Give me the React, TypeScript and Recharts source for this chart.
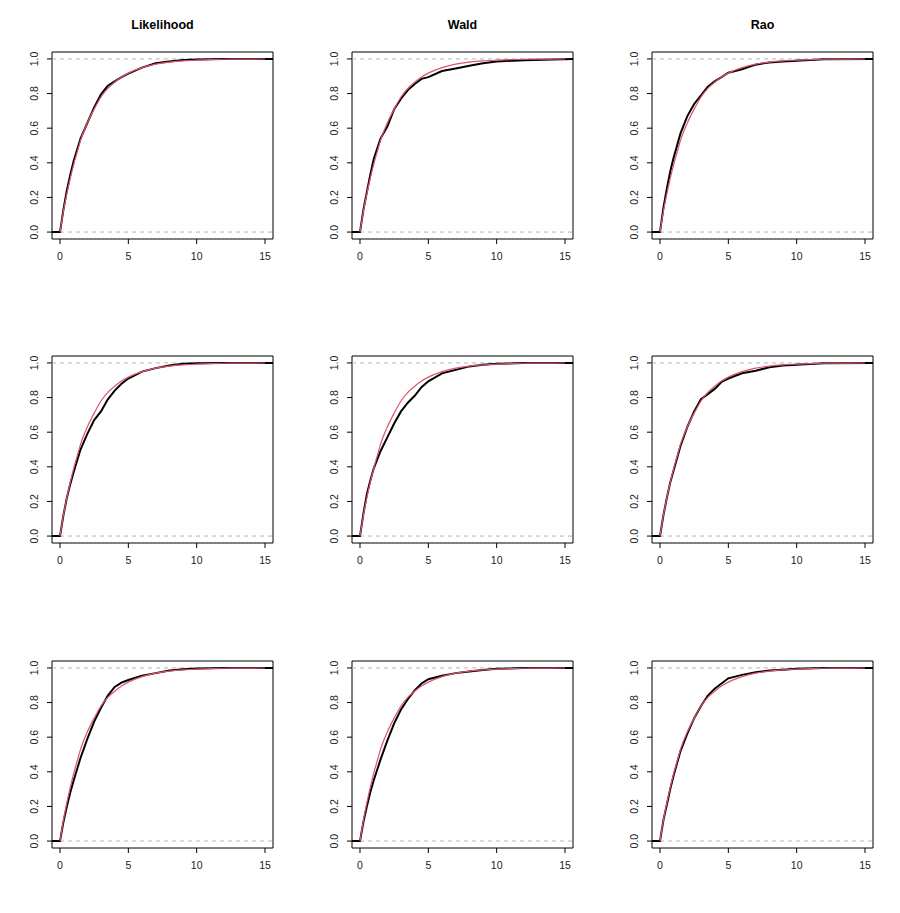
// 3x3 grid of ECDF plots (black) against the reference chi-square CDF (red)

import React from "react"
import {
  LineChart,
  Line,
  XAxis,
  YAxis,
  ReferenceLine,
  ReferenceArea,
} from "recharts"

const testNames = ["Likelihood", "Wald", "Rao"]

// x positions where the empirical curves were read
const ecdfX = [-0.6, 0, 0.25, 0.5, 0.75, 1, 1.5, 2, 2.5, 3, 3.5, 4, 4.5, 5, 6, 7, 8, 9, 10, 12, 15.6]

// rows top to bottom, columns Likelihood / Wald / Rao
const lik1 = [0, 0, 0.13, 0.24, 0.33, 0.41, 0.54, 0.63, 0.72, 0.795, 0.845, 0.87, 0.895, 0.915, 0.95, 0.975, 0.985, 0.994, 0.997, 0.999, 1]
const wald1 = [0, 0, 0.13, 0.23, 0.33, 0.42, 0.54, 0.61, 0.71, 0.77, 0.82, 0.855, 0.885, 0.895, 0.93, 0.945, 0.96, 0.975, 0.985, 0.993, 1]
const rao1 = [0, 0, 0.14, 0.25, 0.35, 0.43, 0.57, 0.67, 0.74, 0.79, 0.84, 0.87, 0.895, 0.92, 0.94, 0.967, 0.98, 0.985, 0.99, 0.998, 1]
const lik2 = [0, 0, 0.12, 0.22, 0.3, 0.37, 0.5, 0.59, 0.67, 0.72, 0.79, 0.84, 0.88, 0.91, 0.95, 0.97, 0.985, 0.995, 0.998, 1, 1]
const wald2 = [0, 0, 0.13, 0.24, 0.32, 0.39, 0.49, 0.57, 0.65, 0.72, 0.77, 0.81, 0.86, 0.894, 0.94, 0.96, 0.98, 0.99, 0.995, 0.999, 1]
const rao2 = [0, 0, 0.12, 0.22, 0.31, 0.38, 0.52, 0.63, 0.72, 0.79, 0.82, 0.85, 0.89, 0.91, 0.94, 0.955, 0.975, 0.985, 0.99, 0.998, 1]
const lik3 = [0, 0, 0.11, 0.2, 0.28, 0.35, 0.48, 0.59, 0.69, 0.77, 0.84, 0.89, 0.915, 0.93, 0.955, 0.97, 0.985, 0.993, 0.996, 0.999, 1]
const wald3 = [0, 0, 0.11, 0.2, 0.28, 0.35, 0.47, 0.58, 0.68, 0.76, 0.82, 0.87, 0.91, 0.935, 0.955, 0.97, 0.98, 0.988, 0.995, 0.999, 1]
const rao3 = [0, 0, 0.12, 0.21, 0.3, 0.38, 0.52, 0.62, 0.71, 0.78, 0.84, 0.88, 0.91, 0.94, 0.96, 0.975, 0.985, 0.99, 0.995, 0.999, 1]

const panels = [
  [lik1, wald1, rao1],
  [lik2, wald2, rao2],
  [lik3, wald3, rao3],
]

// reference CDF, same in every panel
const theoX = [0, 0.1, 0.25, 0.5, 0.75, 1, 1.25, 1.5, 2, 2.5, 3, 3.5, 4, 4.5, 5, 6, 7, 8, 9, 10, 11, 12, 13, 14, 15]
const theoY = [0, 0.05, 0.12, 0.22, 0.31, 0.39, 0.46, 0.53, 0.63, 0.71, 0.78, 0.83, 0.865, 0.895, 0.918, 0.95, 0.97, 0.982, 0.989, 0.993, 0.996, 0.998, 0.9985, 0.999, 0.9995]

const xTicks = [0, 5, 10, 15]
const yTicks = [0, 0.2, 0.4, 0.6, 0.8, 1]

const X_MIN = -0.585
const X_MAX = 15.585
const Y_MIN = -0.04
const Y_MAX = 1.04

const FONT = "'Liberation Sans', Arial, Helvetica, sans-serif"
const PANEL_W = 300
const PANEL_H = 305
const ROW_TOPS = [0, 304, 609]

const theoData = theoX.map((x, i) => ({ x, y: theoY[i] }))

const XTick = (props: any) => {
  const { x, y, payload } = props
  return (
    <text
      x={x}
      y={y}
      dy="0.71em"
      textAnchor="middle"
      fontSize={10.5}
      fill="#222"
      stroke="none"
      fontFamily={FONT}
    >
      {payload.value}
    </text>
  )
}

const YTick = (props: any) => {
  const { x, y, payload } = props
  return (
    <text
      x={x}
      y={y}
      transform={`rotate(-90, ${x}, ${y})`}
      textAnchor="middle"
      fontSize={10.5}
      fill="#222"
      stroke="none"
      fontFamily={FONT}
    >
      {payload.value.toFixed(1)}
    </text>
  )
}

function Panel({ values, title }: { values: number[]; title?: string }) {
  const data = ecdfX.map((x, i) => ({ x, y: values[i] }))
  return (
    <div style={{ position: "relative", width: PANEL_W, height: PANEL_H }}>
      {title && (
        <div
          style={{
            position: "absolute",
            left: 52,
            width: 221,
            top: 18,
            textAlign: "center",
            fontFamily: FONT,
            fontWeight: "bold",
            fontSize: 12.5,
            color: "#000",
          }}
        >
          {title}
        </div>
      )}
      <LineChart
        width={PANEL_W}
        height={PANEL_H}
        margin={{ top: 52, right: 27, bottom: 36, left: 12 }}
      >
        <XAxis
          type="number"
          dataKey="x"
          domain={[X_MIN, X_MAX]}
          ticks={xTicks}
          allowDataOverflow
          axisLine={false}
          tickLine={{ stroke: "#000" }}
          tickSize={5}
          tickMargin={9}
          height={30}
          tick={<XTick />}
        />
        <YAxis
          type="number"
          dataKey="y"
          domain={[Y_MIN, Y_MAX]}
          ticks={yTicks}
          allowDataOverflow
          axisLine={false}
          tickLine={{ stroke: "#000" }}
          tickSize={5}
          tickMargin={9}
          width={40}
          tick={<YTick />}
        />
        <ReferenceLine y={0} stroke="#b3b3b3" strokeDasharray="4 4" />
        <ReferenceLine y={1} stroke="#b3b3b3" strokeDasharray="4 4" />
        <Line
          data={data}
          dataKey="y"
          type="linear"
          stroke="#000"
          strokeWidth={2}
          dot={false}
          activeDot={false}
          isAnimationActive={false}
        />
        <Line
          data={theoData}
          dataKey="y"
          type="monotone"
          stroke="#DF536B"
          strokeWidth={1.2}
          dot={false}
          activeDot={false}
          isAnimationActive={false}
        />
        <ReferenceArea
          x1={X_MIN}
          x2={X_MAX}
          y1={Y_MIN}
          y2={Y_MAX}
          fill="none"
          fillOpacity={0}
          stroke="#000"
          strokeWidth={1}
        />
      </LineChart>
    </div>
  )
}

export default function App() {
  return (
    <div
      style={{
        position: "absolute",
        left: 0,
        top: 0,
        width: 900,
        height: 913,
        background: "#fff",
      }}
    >
      {panels.map((row, r) =>
        row.map((values, c) => (
          <div
            key={`${r}-${c}`}
            style={{ position: "absolute", left: c * PANEL_W, top: ROW_TOPS[r] }}
          >
            <Panel values={values} title={r === 0 ? testNames[c] : undefined} />
          </div>
        )),
      )}
    </div>
  )
}
